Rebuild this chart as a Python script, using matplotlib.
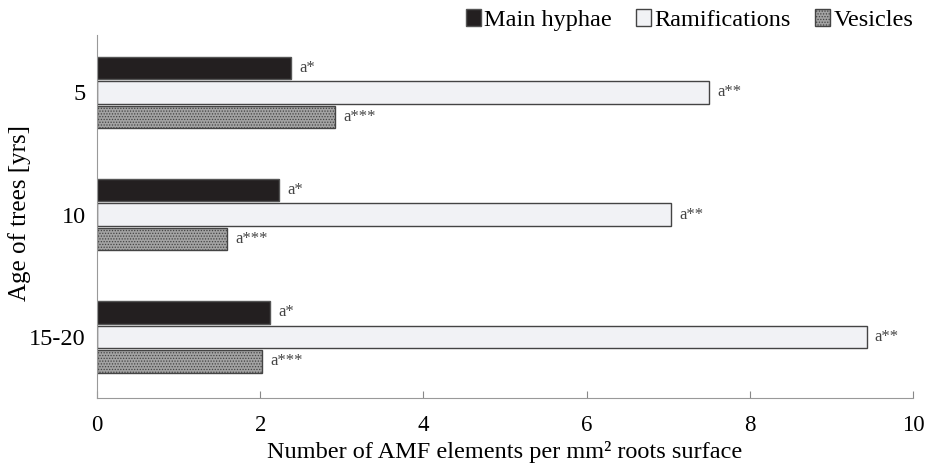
import numpy as np
import matplotlib
matplotlib.use("Agg")
import matplotlib.pyplot as plt

plt.rcParams['font.family'] = ['Liberation Serif', 'DejaVu Serif']
plt.rcParams['hatch.linewidth'] = 0.6

ages = ['5', '10', '15-20']
main_hyphae = [2.38, 2.23, 2.12]
ramifications = [7.50, 7.03, 9.43]
vesicles = [2.92, 1.59, 2.02]
series = ['Main hyphae', 'Ramifications', 'Vesicles']
marks = ['a*', 'a**', 'a***']

fig = plt.figure(figsize=(9.28, 4.66), dpi=100)
ax = fig.add_axes([0.1045, 0.146, 0.8795, 0.779])

pos = np.array([2, 1, 0])
h = 0.185
styles = [
    dict(color='#231f20', edgecolor='#555555'),
    dict(color='#f1f2f5', edgecolor='#444444'),
    dict(color='#a3a3a3', edgecolor='#444444', hatch='......'),
]
offsets = [h + 0.015, 0, -(h + 0.015)]
for vals, name, st, off, mk in zip([main_hyphae, ramifications, vesicles], series, styles, offsets, marks):
    ax.barh(pos + off, vals, height=h, label=name, linewidth=1.0, **st)
    for y, v in zip(pos + off, vals):
        ax.text(v + 0.1, y, mk, va='center', ha='left', fontsize=12, color='#444444')

ax.set_xlim(0, 10)
ax.set_ylim(-0.5, 2.47)
ax.set_xticks([0, 2, 4, 6, 8, 10])
ax.set_yticks(pos)
ax.set_yticklabels(ages)
ax.tick_params(axis='x', direction='in', length=5, color='#888888', labelsize=16.5, pad=12)
ax.tick_params(axis='y', length=0, labelsize=17.5, pad=8)
for s in ['top', 'right']:
    ax.spines[s].set_visible(False)
for s in ['left', 'bottom']:
    ax.spines[s].set_color('#999999')
ax.set_xlabel('Number of AMF elements per mm² roots surface', fontsize=17.5, labelpad=4)
ax.set_ylabel('Age of trees [yrs]', fontsize=18, va='center')
ax.yaxis.set_label_coords(-0.095, 0.51)

ax.legend(loc='lower right', bbox_to_anchor=(1.012, 0.985), ncol=3, frameon=False,
          fontsize=17.5, handlelength=0.6, handleheight=0.7, handletextpad=0.15,
          columnspacing=1.0, borderaxespad=0)

fig.savefig('out.png', dpi=100)
